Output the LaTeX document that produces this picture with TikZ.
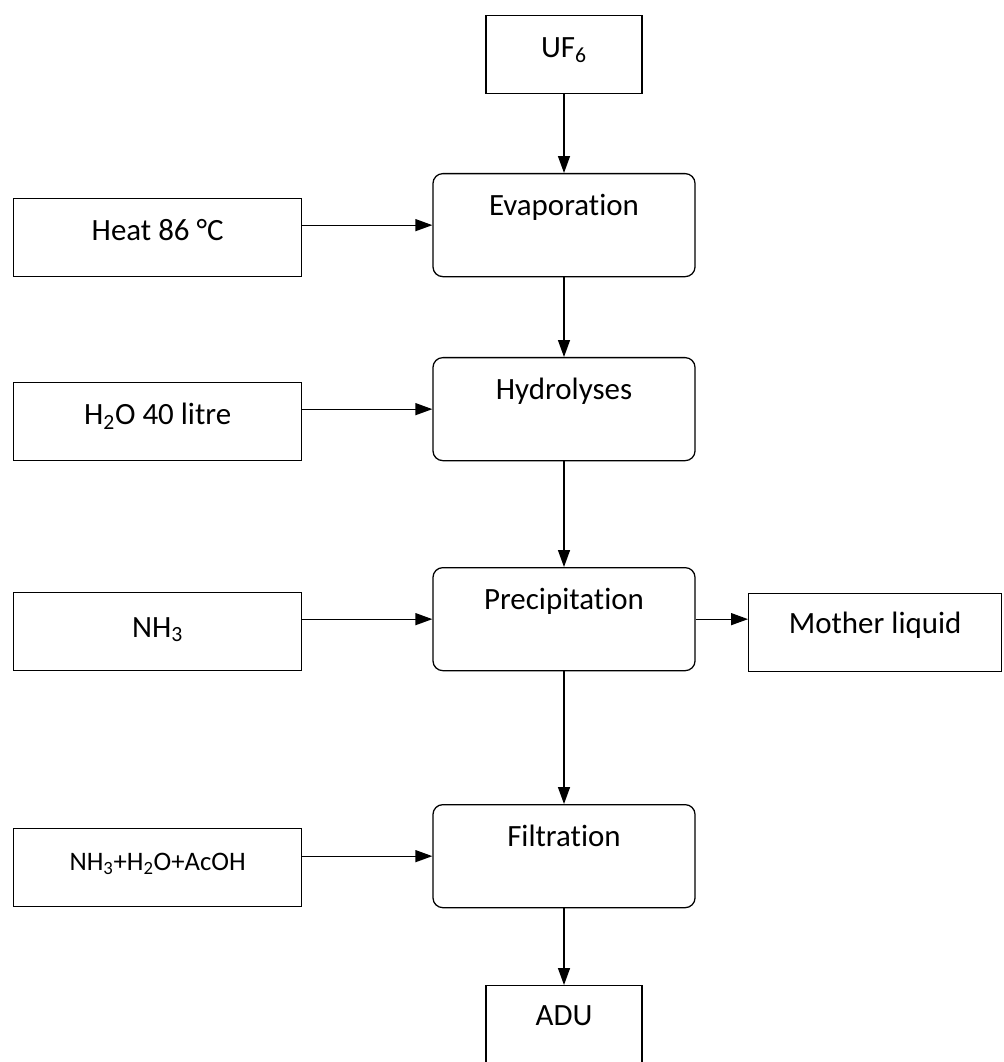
\documentclass[tikz,border=0pt]{standalone}
\usepackage{fontspec}
\setmainfont[Ligatures=NoCommon]{Carlito}
\usepackage{tikz}
\usetikzlibrary{arrows.meta}

\begin{document}
\begin{tikzpicture}[x=0.025cm,y=-0.025cm,
	box/.style={draw, line width=0.9pt, inner ysep=0pt, font=\fontsize{22}{26}\selectfont,
		minimum width=7.2cm, text height=1.05cm, text depth=0.9cm},
	proc/.style={box, rounded corners=7pt, minimum width=6.55cm, text depth=1.525cm},
	flow/.style={line width=0.9pt, -{Triangle[length=12pt,width=8.5pt]}}]
	\useasboundingbox (0,0) rectangle (1003,1062);

	\node[box, minimum width=3.9cm, anchor=north] (uf) at (564,15) {UF\textsubscript{6}};
	\node[proc, anchor=north] (evap) at (564,173) {Evaporation};
	\node[proc, anchor=north] (hydro) at (564,357) {Hydrolyses};
	\node[proc, anchor=north] (precip) at (564,567) {Precipitation};
	\node[proc, anchor=north] (filt) at (564,804) {Filtration};
	\node[box, minimum width=3.9cm, text height=1cm, text depth=1.2cm, anchor=north] (adu) at (564,985) {ADU};

	\node[box, anchor=north west] (heat) at (13,198) {Heat 86 °C};
	\node[box, anchor=north west] (water) at (13,382) {H\textsubscript{2}O 40 litre};
	\node[box, text height=1.12cm, text depth=0.83cm, anchor=north west] (ammonia) at (13,592) {NH\textsubscript{3}};
	\node[box, font=\fontsize{19}{23}\selectfont, anchor=north west] (wash) at (13,828) {NH\textsubscript{3}+H\textsubscript{2}O+AcOH};
	\node[box, minimum width=6.325cm, text height=1cm, text depth=0.95cm, anchor=north west] (mother) at (748,593) {Mother liquid};

	\path [flow] (uf) edge (evap);
	\path [flow] (evap) edge (hydro);
	\path [flow] (hydro) edge (precip);
	\path [flow] (precip) edge (filt);
	\path [flow] (filt) edge (adu);

	\path [flow] (heat.east |- evap.west) edge (evap.west);
	\path [flow] (water.east |- hydro.west) edge (hydro.west);
	\path [flow] (ammonia.east |- precip.west) edge (precip.west);
	\path [flow] (wash.east |- filt.west) edge (filt.west);
	\path [flow] (precip.east) edge (mother.west |- precip.east);
\end{tikzpicture}
\end{document}
